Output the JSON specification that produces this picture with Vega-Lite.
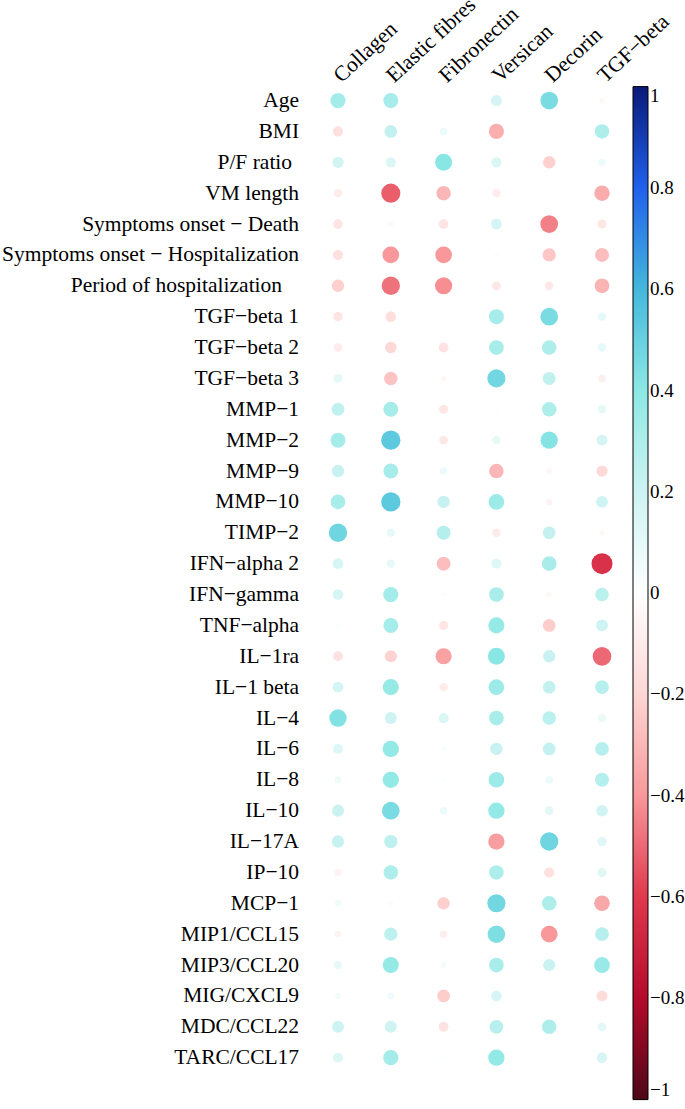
{
  "$schema": "https://vega.github.io/schema/vega-lite/v6.json",
  "autosize": "none",
  "width": 316.8,
  "height": 988,
  "padding": {"left": 311.6, "top": 85.1, "right": 56.6, "bottom": 35.9},
  "background": "white",
  "config": {"view": {"stroke": null}},
  "data": {"values": [
    {"r":"Age","c":"Collagen","v":0.33},{"r":"Age","c":"Elastic fibres","v":0.32},{"r":"Age","c":"Fibronectin","v":0.01},{"r":"Age","c":"Versican","v":0.17},{"r":"Age","c":"Decorin","v":0.45},{"r":"Age","c":"TGF−beta","v":-0.04},
    {"r":"BMI","c":"Collagen","v":-0.15},{"r":"BMI","c":"Elastic fibres","v":0.23},{"r":"BMI","c":"Fibronectin","v":0.08},{"r":"BMI","c":"Versican","v":-0.33},{"r":"BMI","c":"Decorin","v":0.01},{"r":"BMI","c":"TGF−beta","v":0.30},
    {"r":"P/F ratio","c":"Collagen","v":0.18},{"r":"P/F ratio","c":"Elastic fibres","v":0.15},{"r":"P/F ratio","c":"Fibronectin","v":0.41},{"r":"P/F ratio","c":"Versican","v":0.15},{"r":"P/F ratio","c":"Decorin","v":-0.22},{"r":"P/F ratio","c":"TGF−beta","v":0.08},
    {"r":"VM length","c":"Collagen","v":-0.10},{"r":"VM length","c":"Elastic fibres","v":-0.52},{"r":"VM length","c":"Fibronectin","v":-0.30},{"r":"VM length","c":"Versican","v":-0.10},{"r":"VM length","c":"Decorin","v":-0.01},{"r":"VM length","c":"TGF−beta","v":-0.34},
    {"r":"Symptoms onset − Death","c":"Collagen","v":-0.13},{"r":"Symptoms onset − Death","c":"Elastic fibres","v":-0.04},{"r":"Symptoms onset − Death","c":"Fibronectin","v":-0.13},{"r":"Symptoms onset − Death","c":"Versican","v":0.17},{"r":"Symptoms onset − Death","c":"Decorin","v":-0.45},{"r":"Symptoms onset − Death","c":"TGF−beta","v":-0.12},
    {"r":"Symptoms onset − Hospitalization","c":"Collagen","v":-0.15},{"r":"Symptoms onset − Hospitalization","c":"Elastic fibres","v":-0.40},{"r":"Symptoms onset − Hospitalization","c":"Fibronectin","v":-0.40},{"r":"Symptoms onset − Hospitalization","c":"Versican","v":-0.02},{"r":"Symptoms onset − Hospitalization","c":"Decorin","v":-0.25},{"r":"Symptoms onset − Hospitalization","c":"TGF−beta","v":-0.28},
    {"r":"Period of hospitalization","c":"Collagen","v":-0.22},{"r":"Period of hospitalization","c":"Elastic fibres","v":-0.48},{"r":"Period of hospitalization","c":"Fibronectin","v":-0.42},{"r":"Period of hospitalization","c":"Versican","v":-0.11},{"r":"Period of hospitalization","c":"Decorin","v":-0.11},{"r":"Period of hospitalization","c":"TGF−beta","v":-0.31},
    {"r":"TGF−beta 1","c":"Collagen","v":-0.13},{"r":"TGF−beta 1","c":"Elastic fibres","v":-0.16},{"r":"TGF−beta 1","c":"Fibronectin","v":-0.01},{"r":"TGF−beta 1","c":"Versican","v":0.32},{"r":"TGF−beta 1","c":"Decorin","v":0.45},{"r":"TGF−beta 1","c":"TGF−beta","v":0.10},
    {"r":"TGF−beta 2","c":"Collagen","v":-0.10},{"r":"TGF−beta 2","c":"Elastic fibres","v":-0.19},{"r":"TGF−beta 2","c":"Fibronectin","v":-0.14},{"r":"TGF−beta 2","c":"Versican","v":0.31},{"r":"TGF−beta 2","c":"Decorin","v":0.30},{"r":"TGF−beta 2","c":"TGF−beta","v":0.10},
    {"r":"TGF−beta 3","c":"Collagen","v":0.11},{"r":"TGF−beta 3","c":"Elastic fibres","v":-0.26},{"r":"TGF−beta 3","c":"Fibronectin","v":-0.04},{"r":"TGF−beta 3","c":"Versican","v":0.47},{"r":"TGF−beta 3","c":"Decorin","v":0.24},{"r":"TGF−beta 3","c":"TGF−beta","v":-0.08},
    {"r":"MMP−1","c":"Collagen","v":0.24},{"r":"MMP−1","c":"Elastic fibres","v":0.32},{"r":"MMP−1","c":"Fibronectin","v":-0.12},{"r":"MMP−1","c":"Versican","v":0.02},{"r":"MMP−1","c":"Decorin","v":0.30},{"r":"MMP−1","c":"TGF−beta","v":0.10},
    {"r":"MMP−2","c":"Collagen","v":0.32},{"r":"MMP−2","c":"Elastic fibres","v":0.53},{"r":"MMP−2","c":"Fibronectin","v":-0.11},{"r":"MMP−2","c":"Versican","v":0.10},{"r":"MMP−2","c":"Decorin","v":0.42},{"r":"MMP−2","c":"TGF−beta","v":0.17},
    {"r":"MMP−9","c":"Collagen","v":0.22},{"r":"MMP−9","c":"Elastic fibres","v":0.32},{"r":"MMP−9","c":"Fibronectin","v":0.08},{"r":"MMP−9","c":"Versican","v":-0.30},{"r":"MMP−9","c":"Decorin","v":-0.05},{"r":"MMP−9","c":"TGF−beta","v":-0.18},
    {"r":"MMP−10","c":"Collagen","v":0.31},{"r":"MMP−10","c":"Elastic fibres","v":0.53},{"r":"MMP−10","c":"Fibronectin","v":0.22},{"r":"MMP−10","c":"Versican","v":0.35},{"r":"MMP−10","c":"Decorin","v":-0.06},{"r":"MMP−10","c":"TGF−beta","v":0.20},
    {"r":"TIMP−2","c":"Collagen","v":0.48},{"r":"TIMP−2","c":"Elastic fibres","v":0.10},{"r":"TIMP−2","c":"Fibronectin","v":0.28},{"r":"TIMP−2","c":"Versican","v":-0.10},{"r":"TIMP−2","c":"Decorin","v":0.23},{"r":"TIMP−2","c":"TGF−beta","v":-0.04},
    {"r":"IFN−alpha 2","c":"Collagen","v":0.16},{"r":"IFN−alpha 2","c":"Elastic fibres","v":0.10},{"r":"IFN−alpha 2","c":"Fibronectin","v":-0.28},{"r":"IFN−alpha 2","c":"Versican","v":0.14},{"r":"IFN−alpha 2","c":"Decorin","v":0.31},{"r":"IFN−alpha 2","c":"TGF−beta","v":-0.63},
    {"r":"IFN−gamma","c":"Collagen","v":0.16},{"r":"IFN−gamma","c":"Elastic fibres","v":0.33},{"r":"IFN−gamma","c":"Fibronectin","v":-0.03},{"r":"IFN−gamma","c":"Versican","v":0.31},{"r":"IFN−gamma","c":"Decorin","v":-0.04},{"r":"IFN−gamma","c":"TGF−beta","v":0.26},
    {"r":"TNF−alpha","c":"Collagen","v":0.03},{"r":"TNF−alpha","c":"Elastic fibres","v":0.32},{"r":"TNF−alpha","c":"Fibronectin","v":-0.12},{"r":"TNF−alpha","c":"Versican","v":0.37},{"r":"TNF−alpha","c":"Decorin","v":-0.23},{"r":"TNF−alpha","c":"TGF−beta","v":0.20},
    {"r":"IL−1ra","c":"Collagen","v":-0.14},{"r":"IL−1ra","c":"Elastic fibres","v":-0.21},{"r":"IL−1ra","c":"Fibronectin","v":-0.37},{"r":"IL−1ra","c":"Versican","v":0.41},{"r":"IL−1ra","c":"Decorin","v":0.22},{"r":"IL−1ra","c":"TGF−beta","v":-0.50},
    {"r":"IL−1 beta","c":"Collagen","v":0.17},{"r":"IL−1 beta","c":"Elastic fibres","v":0.37},{"r":"IL−1 beta","c":"Fibronectin","v":-0.10},{"r":"IL−1 beta","c":"Versican","v":0.35},{"r":"IL−1 beta","c":"Decorin","v":0.23},{"r":"IL−1 beta","c":"TGF−beta","v":0.27},
    {"r":"IL−4","c":"Collagen","v":0.43},{"r":"IL−4","c":"Elastic fibres","v":0.20},{"r":"IL−4","c":"Fibronectin","v":0.15},{"r":"IL−4","c":"Versican","v":0.31},{"r":"IL−4","c":"Decorin","v":0.26},{"r":"IL−4","c":"TGF−beta","v":0.09},
    {"r":"IL−6","c":"Collagen","v":0.14},{"r":"IL−6","c":"Elastic fibres","v":0.38},{"r":"IL−6","c":"Fibronectin","v":0.03},{"r":"IL−6","c":"Versican","v":0.22},{"r":"IL−6","c":"Decorin","v":0.23},{"r":"IL−6","c":"TGF−beta","v":0.27},
    {"r":"IL−8","c":"Collagen","v":0.07},{"r":"IL−8","c":"Elastic fibres","v":0.38},{"r":"IL−8","c":"Fibronectin","v":0.02},{"r":"IL−8","c":"Versican","v":0.35},{"r":"IL−8","c":"Decorin","v":0.08},{"r":"IL−8","c":"TGF−beta","v":0.28},
    {"r":"IL−10","c":"Collagen","v":0.21},{"r":"IL−10","c":"Elastic fibres","v":0.45},{"r":"IL−10","c":"Fibronectin","v":0.08},{"r":"IL−10","c":"Versican","v":0.38},{"r":"IL−10","c":"Decorin","v":0.11},{"r":"IL−10","c":"TGF−beta","v":0.19},
    {"r":"IL−17A","c":"Collagen","v":0.22},{"r":"IL−17A","c":"Elastic fibres","v":0.25},{"r":"IL−17A","c":"Fibronectin","v":0.01},{"r":"IL−17A","c":"Versican","v":-0.38},{"r":"IL−17A","c":"Decorin","v":0.48},{"r":"IL−17A","c":"TGF−beta","v":0.13},
    {"r":"IP−10","c":"Collagen","v":-0.07},{"r":"IP−10","c":"Elastic fibres","v":0.30},{"r":"IP−10","c":"Fibronectin","v":0.01},{"r":"IP−10","c":"Versican","v":0.30},{"r":"IP−10","c":"Decorin","v":-0.15},{"r":"IP−10","c":"TGF−beta","v":0.12},
    {"r":"MCP−1","c":"Collagen","v":0.06},{"r":"MCP−1","c":"Elastic fibres","v":-0.03},{"r":"MCP−1","c":"Fibronectin","v":-0.22},{"r":"MCP−1","c":"Versican","v":0.47},{"r":"MCP−1","c":"Decorin","v":0.30},{"r":"MCP−1","c":"TGF−beta","v":-0.35},
    {"r":"MIP1/CCL15","c":"Collagen","v":-0.06},{"r":"MIP1/CCL15","c":"Elastic fibres","v":0.25},{"r":"MIP1/CCL15","c":"Fibronectin","v":-0.08},{"r":"MIP1/CCL15","c":"Versican","v":0.44},{"r":"MIP1/CCL15","c":"Decorin","v":-0.40},{"r":"MIP1/CCL15","c":"TGF−beta","v":0.27},
    {"r":"MIP3/CCL20","c":"Collagen","v":0.10},{"r":"MIP3/CCL20","c":"Elastic fibres","v":0.37},{"r":"MIP3/CCL20","c":"Fibronectin","v":0.05},{"r":"MIP3/CCL20","c":"Versican","v":0.31},{"r":"MIP3/CCL20","c":"Decorin","v":0.21},{"r":"MIP3/CCL20","c":"TGF−beta","v":0.36},
    {"r":"MIG/CXCL9","c":"Collagen","v":0.05},{"r":"MIG/CXCL9","c":"Elastic fibres","v":0.07},{"r":"MIG/CXCL9","c":"Fibronectin","v":-0.23},{"r":"MIG/CXCL9","c":"Versican","v":0.16},{"r":"MIG/CXCL9","c":"Decorin","v":0.01},{"r":"MIG/CXCL9","c":"TGF−beta","v":-0.17},
    {"r":"MDC/CCL22","c":"Collagen","v":0.20},{"r":"MDC/CCL22","c":"Elastic fibres","v":0.20},{"r":"MDC/CCL22","c":"Fibronectin","v":-0.14},{"r":"MDC/CCL22","c":"Versican","v":0.27},{"r":"MDC/CCL22","c":"Decorin","v":0.30},{"r":"MDC/CCL22","c":"TGF−beta","v":0.11},
    {"r":"TARC/CCL17","c":"Collagen","v":0.14},{"r":"TARC/CCL17","c":"Elastic fibres","v":0.33},{"r":"TARC/CCL17","c":"Fibronectin","v":0.02},{"r":"TARC/CCL17","c":"Versican","v":0.38},{"r":"TARC/CCL17","c":"Decorin","v":0.02},{"r":"TARC/CCL17","c":"TGF−beta","v":0.16}
  ]},
  "mark": {"type": "point", "shape": "circle", "filled": true, "opacity": 1, "strokeWidth": 0},
  "encoding": {
    "x": {"field": "c", "type": "nominal", "sort": null, "scale": {"padding": 0.5},
      "axis": {"orient": "top", "title": null, "labelAngle": -43, "labelAlign": "left", "labelBaseline": "alphabetic", "labelPadding": 2, "labelOffset": 3, "ticks": false, "tickSize": 0, "domain": false, "grid": false, "labelFont": "Liberation Serif", "labelFontSize": 21.5, "labelColor": "black", "labelOverlap": false, "labelLimit": 300}},
    "y": {"field": "r", "type": "nominal", "sort": null, "scale": {"padding": 0.5},
      "axis": {"title": null, "ticks": false, "tickSize": 0, "domain": false, "grid": false,
        "labelPadding": {"condition": [{"test": "datum.value == 'P/F ratio'", "value": 20}, {"test": "datum.value == 'Period of hospitalization'", "value": 30}], "value": 13},
        "labelFont": "Liberation Serif", "labelFontSize": 21.5, "labelColor": "black", "labelOverlap": false, "labelLimit": 400}},
    "size": {"field": "v", "type": "quantitative", "scale": {"type": "linear", "domain": [-1, 0, 1], "range": [700, 0, 700], "zero": false}, "legend": null},
    "color": {"field": "v", "type": "quantitative",
      "scale": {"domain": [-1, -0.8, -0.6, -0.4, -0.2, 0, 0.2, 0.4, 0.6, 0.8, 1],
        "range": ["#4d0818", "#b40a2a", "#e0384e", "#f8989a", "#fdd6d4", "#ffffff", "#cdf3f2", "#8ce8e4", "#44b8dc", "#2060ec", "#0a1a78"], "interpolate": "rgb"},
      "legend": {"orient": "none", "legendX": 321.4, "legendY": 1.5, "direction": "vertical", "title": null, "padding": 0,
        "gradientLength": 1013, "gradientThickness": 15, "gradientStrokeColor": "black", "gradientStrokeWidth": 1,
        "values": [1, 0.8, 0.6, 0.4, 0.2, 0, -0.2, -0.4, -0.6, -0.8, -1],
        "labelExpr": "datum.value == 0 ? '0' : (datum.value > 0 ? format(datum.value, '.1~f') : '−' + format(-datum.value, '.1~f'))",
        "labelFont": "Liberation Serif", "labelFontSize": 19, "labelColor": "black", "labelOffset": 2, "labelOverlap": false}}
  }
}
